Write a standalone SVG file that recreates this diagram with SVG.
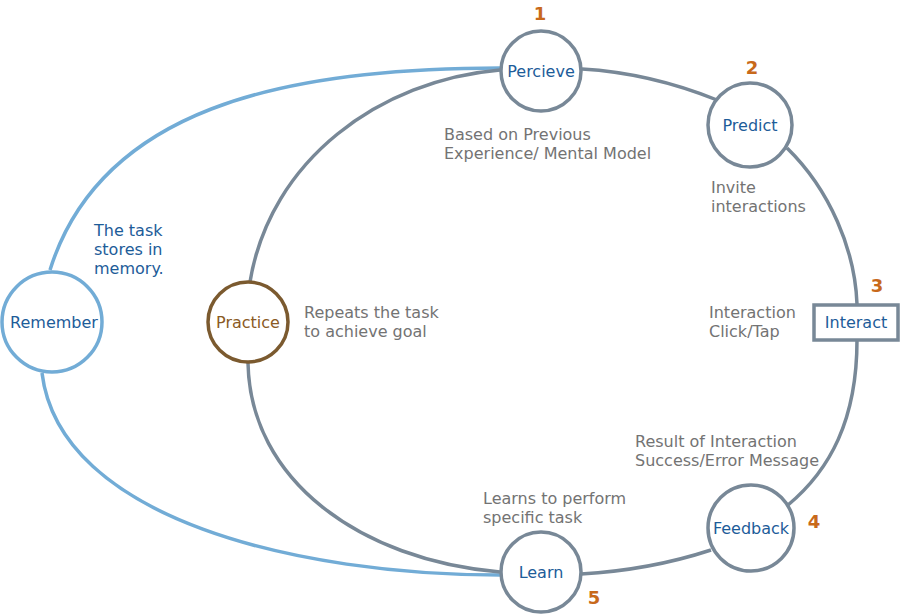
<svg xmlns="http://www.w3.org/2000/svg" width="901" height="614" viewBox="0 0 901 614">
<style>
.bg{fill:#ffffff}
.c{fill:none;stroke-width:3.5}
.g{stroke:#788897}
.b{stroke:#72acd6}
.node{fill:#ffffff;stroke-width:3.5}
.lbl{font-family:"DejaVu Sans",sans-serif;font-size:16px;fill:#1d5c99;text-anchor:middle}
.ann{font-family:"DejaVu Sans",sans-serif;font-size:16px;fill:#737373}
.annb{font-family:"DejaVu Sans",sans-serif;font-size:16px;fill:#1d5c99}
.num{font-family:"DejaVu Sans",sans-serif;font-size:18px;font-weight:bold;fill:#c8691b;text-anchor:middle}
</style>
<rect class="bg" x="0" y="0" width="901" height="614"/>
<g id="connectors">
<path class="c b" d="M50,270 C100,110 280,68 500,68"/>
<path class="c b" d="M42,373 C60,520 300,575 500,575"/>
<path class="c g" d="M250,282 C270,160 380,80 500,70"/>
<path class="c g" d="M248,363 C250,480 360,560 500,572"/>
<path class="c g" d="M582,69 Q650,73 717,100"/>
<path class="c g" d="M787,148 C830,190 855,250 857,304"/>
<path class="c g" d="M857,340 C857,420 830,470 788,505"/>
<path class="c g" d="M711,550 Q650,570 581,574"/>
</g>
<g id="percieve">
<circle class="node g" cx="541" cy="71" r="40"/>
<text class="lbl" x="541" y="77">Percieve</text>
<text class="num" x="540" y="20">1</text>
</g>
<g id="predict">
<circle class="node g" cx="750" cy="125" r="42"/>
<text class="lbl" x="750" y="131">Predict</text>
<text class="num" x="752" y="74">2</text>
</g>
<g id="interact">
<rect class="node g" x="814" y="305" width="84" height="35"/>
<text class="lbl" x="856" y="328">Interact</text>
<text class="num" x="877" y="292">3</text>
</g>
<g id="feedback">
<circle class="node g" cx="751" cy="528" r="43"/>
<text class="lbl" x="751" y="534">Feedback</text>
<text class="num" x="814" y="528">4</text>
</g>
<g id="learn">
<circle class="node g" cx="541" cy="572" r="40"/>
<text class="lbl" x="541" y="578">Learn</text>
<text class="num" x="594" y="604">5</text>
</g>
<g id="practice">
<circle class="node" style="stroke:#7b5a2f" cx="248" cy="322" r="40"/>
<text class="lbl" style="fill:#8a5a24" x="248" y="328">Practice</text>
</g>
<g id="remember">
<circle class="node b" cx="52" cy="322" r="50"/>
<text class="lbl" x="54" y="328">Remember</text>
</g>
<g id="annotations">
<text class="ann" x="444" y="140">Based on Previous</text>
<text class="ann" x="444" y="159">Experience/ Mental Model</text>
<text class="ann" x="711" y="193">Invite</text>
<text class="ann" x="711" y="212">interactions</text>
<text class="ann" x="709" y="318">Interaction</text>
<text class="ann" x="709" y="337">Click/Tap</text>
<text class="ann" x="635" y="447">Result of Interaction</text>
<text class="ann" x="635" y="466">Success/Error Message</text>
<text class="ann" x="483" y="504">Learns to perform</text>
<text class="ann" x="483" y="523">specific task</text>
<text class="ann" x="304" y="318">Repeats the task</text>
<text class="ann" x="304" y="337">to achieve goal</text>
<text class="annb" x="94" y="236">The task</text>
<text class="annb" x="94" y="255">stores in</text>
<text class="annb" x="94" y="274">memory.</text>
</g>
</svg>
